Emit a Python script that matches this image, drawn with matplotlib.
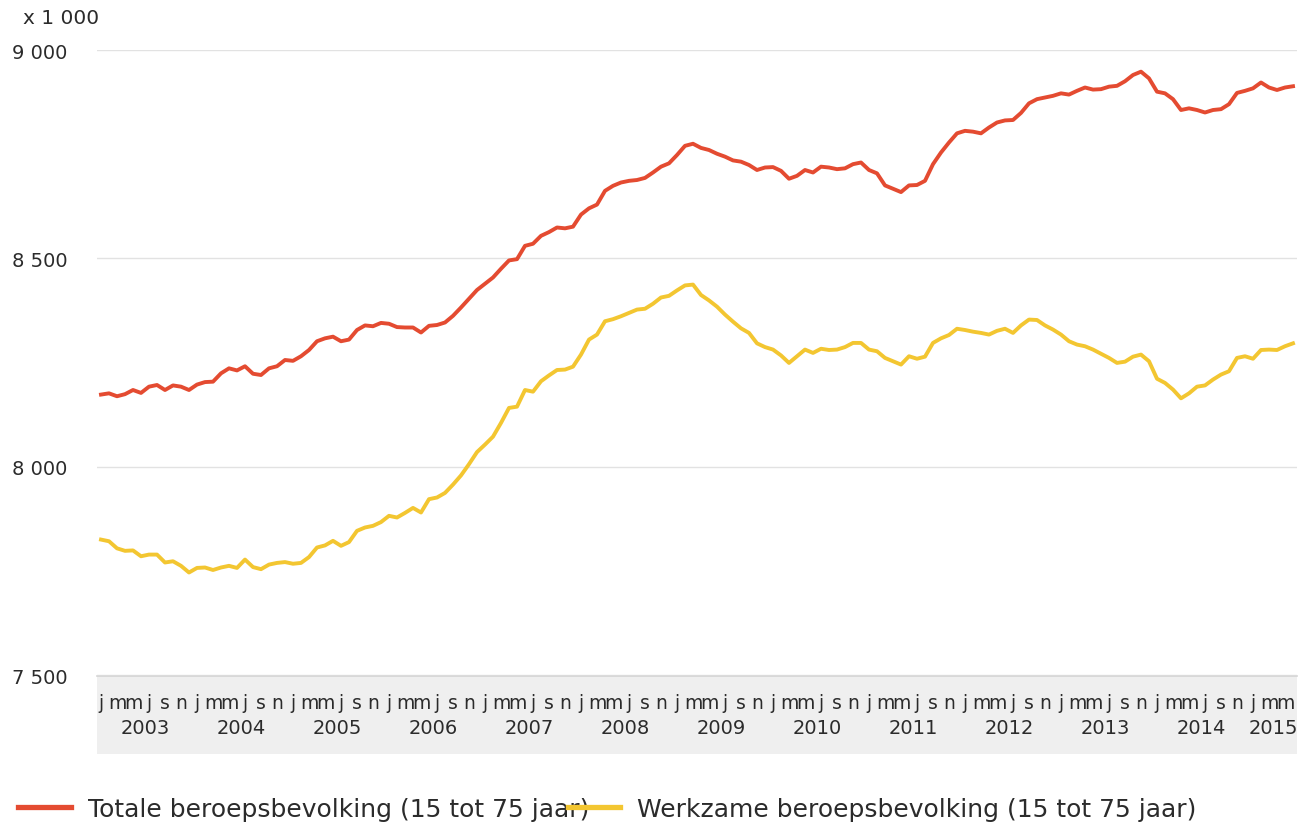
"""
plot.py - Beroepsbevolking (totaal en werkzaam), 15 tot 75 jaar, per maand 2003-2015.
"""

import numpy as np
import pandas as pd
import matplotlib
matplotlib.use('Agg')
import matplotlib.pyplot as plt

# Periode: januari 2003 t/m juni 2015 (maandcijfers)
start_maand = '2003-01'
eind_maand = '2015-06'

# Totale beroepsbevolking (x 1 000)
totaal = [
    8173, 8176, 8169, 8174, 8184, 8177, 8192, 8196, 8184, 8195,
    8192, 8184, 8197, 8203, 8204, 8224, 8236, 8231, 8241, 8223,
    8220, 8236, 8241, 8256, 8254, 8265, 8280, 8301, 8308, 8312,
    8301, 8305, 8328, 8339, 8337, 8345, 8343, 8335,
    8334, 8334, 8322, 8338, 8340, 8346, 8362, 8382, 8403, 8424,
    8439, 8454, 8475, 8495, 8498, 8530, 8535, 8554, 8563, 8574,
    8572, 8576, 8605, 8620, 8629, 8662, 8674, 8682, 8686, 8688,
    8693, 8706, 8720, 8728, 8748, 8770, 8775, 8765,
    8760, 8751, 8744, 8735, 8732, 8724, 8712, 8718, 8719, 8710,
    8691, 8698, 8712, 8706, 8720, 8718, 8714, 8716, 8726, 8730,
    8712, 8704, 8675, 8667, 8659, 8675, 8676, 8686, 8726, 8754,
    8778, 8800, 8806, 8804, 8800, 8814, 8826, 8831,
    8832, 8849, 8872, 8882, 8886, 8890, 8896, 8893, 8902, 8910,
    8905, 8906, 8912, 8914, 8925, 8940, 8948, 8932, 8900, 8896,
    8882, 8856, 8860, 8856, 8850, 8856, 8858, 8870, 8897, 8902,
    8908, 8922, 8910, 8904, 8910, 8913,
]

# Werkzame beroepsbevolking (x 1 000)
werkzaam = [
    7825, 7821, 7804, 7798, 7799, 7785, 7789, 7789, 7770, 7773,
    7762, 7746, 7757, 7758, 7752, 7758, 7762, 7757, 7777, 7759,
    7754, 7765, 7769, 7771, 7767, 7769, 7783, 7806, 7811, 7822,
    7810, 7819, 7846, 7854, 7858, 7867, 7882, 7878,
    7889, 7901, 7890, 7922, 7926, 7937, 7957, 7979, 8006, 8035,
    8053, 8072, 8105, 8141, 8144, 8184, 8180, 8205, 8219, 8232,
    8233, 8240, 8269, 8305, 8317, 8349, 8354, 8361, 8369, 8377,
    8379, 8391, 8406, 8410, 8423, 8435, 8437, 8412,
    8399, 8384, 8365, 8348, 8332, 8321, 8296, 8287, 8281, 8267,
    8249, 8265, 8281, 8273, 8283, 8280, 8281, 8287, 8297, 8297,
    8281, 8277, 8261, 8253, 8245, 8265, 8259, 8264, 8297, 8308,
    8316, 8331, 8328, 8324, 8321, 8317, 8326, 8331,
    8321, 8339, 8353, 8352, 8339, 8329, 8317, 8301, 8293, 8289,
    8281, 8271, 8261, 8249, 8252, 8264, 8269, 8253, 8211, 8201,
    8185, 8164, 8176, 8192, 8195, 8209, 8221, 8229, 8261, 8265,
    8259, 8280, 8281, 8280, 8289, 8296,
]

labels = ['Totale beroepsbevolking (15 tot 75 jaar)',
          'Werkzame beroepsbevolking (15 tot 75 jaar)']
y_ticks = [7500, 8000, 8500, 9000]
maand_letters = {1: 'j', 3: 'm', 5: 'm', 7: 'j', 9: 's', 11: 'n'}

rood = '#e44b31'
geel = '#f3c631'
tekst_kleur = '#2b2b2b'

maanden = pd.period_range(start_maand, eind_maand, freq='M')
x = np.arange(len(maanden))

W, H = 1315, 828
fig = plt.figure(figsize=(W / 100, H / 100), dpi=100)
fig.patch.set_facecolor('white')
plt.rcParams['font.family'] = ['DejaVu Sans']

# Hoofdgrafiek
ax = fig.add_axes([97 / W, 1 - 676 / H, 1200 / W, 625 / H])
ax.plot(x, totaal, color=rood, linewidth=2.8, solid_joinstyle='round', label=labels[0])
ax.plot(x, werkzaam, color=geel, linewidth=2.8, solid_joinstyle='round', label=labels[1])

ax.set_xlim(-0.5, len(maanden) - 0.5)
ax.set_ylim(y_ticks[0], y_ticks[-1])
ax.set_yticks(y_ticks)
ax.set_yticklabels([f'{v:,}'.replace(',', ' ') for v in y_ticks])
ax.tick_params(axis='y', length=0, pad=21, labelsize=14, labelcolor=tekst_kleur)
ax.set_xticks([])
ax.grid(axis='y', color='#e2e2e2', linewidth=1)
ax.set_axisbelow(True)
for s in ax.spines.values():
    s.set_visible(False)

# Eenheid linksboven
fig.text(23 / W, 1 - 18 / H, 'x 1 000', fontsize=14.5, color=tekst_kleur,
         ha='left', va='center')

# Grijze band met maand- en jaarlabels
band = fig.add_axes([97 / W, 1 - 755 / H, 1200 / W, 78 / H], sharex=ax)
band.set_facecolor('#efefef')
band.set_yticks([])
band.tick_params(axis='x', length=0, labelbottom=False)
for naam, s in band.spines.items():
    s.set_visible(naam == 'top')
band.spines['top'].set_color('#d4d4d4')
band.spines['top'].set_linewidth(1.2)

trans = band.get_xaxis_transform()
for xi, p in zip(x, maanden):
    if p.month in maand_letters:
        band.text(xi, 0.665, maand_letters[p.month], transform=trans,
                  ha='center', va='center', fontsize=13.5, color=tekst_kleur)

for jaar in sorted(set(p.year for p in maanden)):
    idx = [xi for xi, p in zip(x, maanden) if p.year == jaar]
    band.text(np.mean(idx), 0.345, str(jaar), transform=trans,
              ha='center', va='center', fontsize=14, color=tekst_kleur)

# Legenda onderaan
handles, lbls = ax.get_legend_handles_labels()
leg = fig.legend(handles, lbls, loc='center left', ncol=2,
                 bbox_to_anchor=(18 / W, 1 - 810 / H),
                 frameon=False, fontsize=18, handlelength=2.1,
                 handletextpad=0.68, columnspacing=-0.85,
                 borderpad=0, borderaxespad=0)
for line in leg.get_lines():
    line.set_linewidth(3.8)
for t in leg.get_texts():
    t.set_color(tekst_kleur)

fig.savefig('out.png', dpi=100, facecolor=fig.get_facecolor())
plt.close(fig)
